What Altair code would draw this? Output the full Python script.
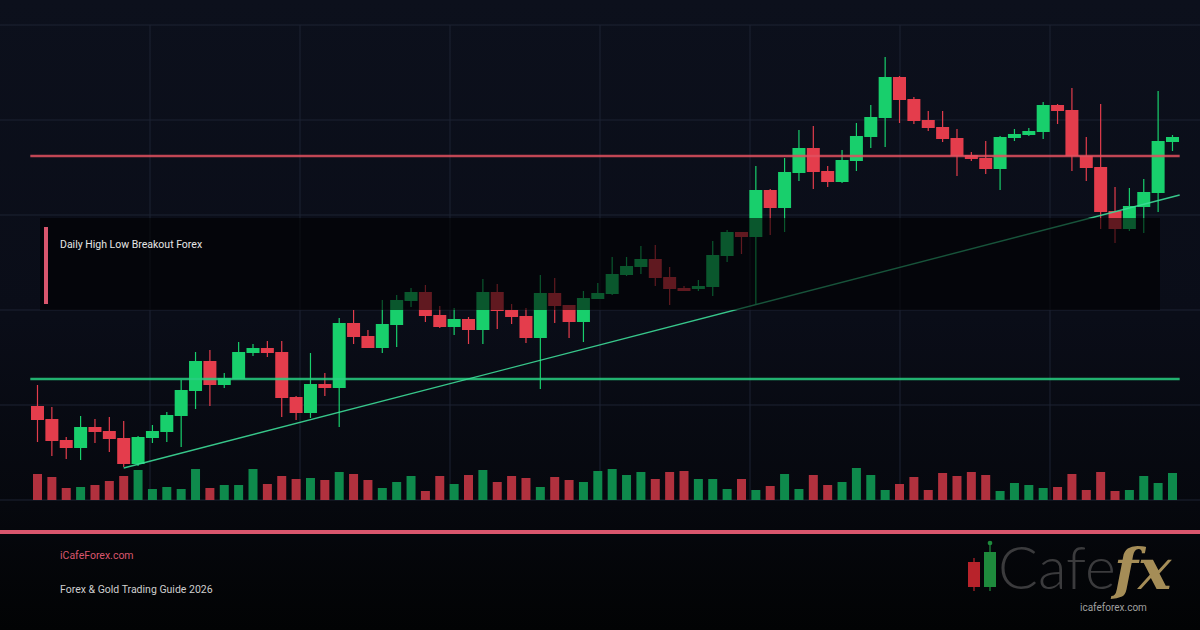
import altair as alt
import pandas as pd

# ---------------- data ----------------
OPEN = [2009.4, 2008.1, 2006.0, 2005.2, 2007.3, 2006.9, 2006.2, 2003.6, 2006.2, 2006.8,
        2008.4, 2010.9, 2013.9, 2011.5, 2012.1, 2014.7, 2015.2, 2014.8, 2010.3, 2008.7,
        2011.6, 2011.2, 2017.7, 2016.4, 2015.2, 2017.5, 2019.9, 2020.8, 2018.5, 2017.3,
        2018.1, 2017.0, 2020.8, 2019.0, 2018.4, 2016.2, 2020.7, 2019.5, 2017.8, 2020.1,
        2020.6, 2022.5, 2023.3, 2024.1, 2022.3, 2021.2, 2021.1, 2021.3, 2024.4, 2026.8,
        2026.3, 2031.0, 2029.2, 2032.7, 2035.2, 2032.9, 2031.8, 2033.9, 2036.3, 2038.2,
        2042.3, 2040.1, 2038.0, 2037.3, 2036.2, 2034.5, 2034.2, 2033.1, 2036.2, 2036.5,
        2036.8, 2039.5, 2039.0, 2034.4, 2033.3, 2028.9, 2027.1, 2029.3, 2030.7, 2035.8]
HIGH = [2011.5, 2009.3, 2006.3, 2008.4, 2008.1, 2008.3, 2007.9, 2006.4, 2007.5, 2008.8,
        2012.0, 2014.8, 2015.0, 2012.7, 2015.8, 2015.6, 2015.9, 2015.9, 2010.4, 2014.7,
        2012.7, 2018.2, 2019.0, 2017.0, 2020.0, 2020.5, 2021.2, 2021.5, 2019.4, 2019.2,
        2018.3, 2022.1, 2021.6, 2019.6, 2019.2, 2022.5, 2022.2, 2019.5, 2020.9, 2021.7,
        2024.3, 2024.3, 2025.4, 2025.5, 2023.3, 2021.4, 2022.0, 2025.9, 2027.0, 2026.8,
        2033.4, 2031.1, 2034.2, 2037.0, 2037.4, 2033.4, 2035.0, 2037.7, 2039.5, 2044.3,
        2042.4, 2040.3, 2038.9, 2038.9, 2037.1, 2034.8, 2035.9, 2036.4, 2037.1, 2037.2,
        2039.8, 2039.6, 2041.2, 2036.3, 2039.6, 2031.3, 2031.2, 2032.1, 2040.9, 2036.5]
LOW = [2005.8, 2004.4, 2004.1, 2004.0, 2005.7, 2004.8, 2003.3, 2003.4, 2005.7, 2005.8,
       2005.3, 2009.1, 2009.4, 2011.2, 2012.1, 2014.4, 2014.3, 2008.3, 2008.0, 2008.2,
       2010.4, 2007.3, 2015.6, 2015.2, 2014.7, 2015.3, 2019.3, 2017.8, 2017.2, 2016.5,
       2015.6, 2015.6, 2017.1, 2017.6, 2015.7, 2011.1, 2017.7, 2016.2, 2015.8, 2020.1,
       2020.5, 2022.4, 2022.6, 2021.4, 2019.5, 2020.9, 2020.9, 2020.4, 2023.8, 2024.6,
       2019.6, 2026.5, 2026.8, 2031.9, 2031.1, 2031.3, 2031.7, 2032.9, 2035.2, 2035.3,
       2037.7, 2037.6, 2036.9, 2035.8, 2032.4, 2033.9, 2032.6, 2031.0, 2035.9, 2036.4,
       2036.1, 2037.6, 2032.9, 2031.9, 2027.1, 2025.7, 2026.9, 2026.7, 2028.8, 2034.9]
CLOSE = [2008.0, 2005.9, 2005.2, 2007.3, 2006.8, 2006.1, 2003.6, 2006.3, 2006.9, 2008.5,
         2011.0, 2013.9, 2011.5, 2012.2, 2014.8, 2015.2, 2014.7, 2010.2, 2008.7, 2011.6,
         2011.2, 2017.7, 2016.3, 2015.2, 2017.6, 2020.0, 2020.8, 2018.4, 2017.3, 2018.1,
         2017.0, 2020.8, 2018.9, 2018.3, 2016.2, 2020.7, 2019.4, 2017.8, 2020.2, 2020.7,
         2022.6, 2023.4, 2024.1, 2022.2, 2021.1, 2020.9, 2021.4, 2024.5, 2026.8, 2026.3,
         2031.0, 2029.2, 2032.8, 2035.2, 2032.8, 2031.8, 2034.0, 2036.4, 2038.3, 2042.3,
         2040.0, 2037.9, 2037.2, 2036.1, 2034.4, 2034.1, 2033.1, 2036.3, 2036.6, 2036.9,
         2039.5, 2038.9, 2034.4, 2033.2, 2028.8, 2027.1, 2029.4, 2030.8, 2035.9, 2036.3]
VOLUME = [2600, 2300, 1200, 1300, 1500, 1900, 2400, 3000, 1100, 1300, 1100, 3100, 1200,
          1500, 1500, 3100, 1600, 2400, 2100, 2200, 2000, 2800, 2600, 2000, 1200, 1800, 2400,
          900, 2400, 1600, 2500, 3000, 1800, 2400, 2200, 1300, 2300, 2000, 1800, 2900, 3100,
          2500, 2800, 2100, 2800, 2900, 2100, 2100, 1100, 2100, 1000, 1400, 2600, 1100,
          2500, 1500, 1800, 3200, 2500, 1000, 1600, 2300, 1000, 2700, 2400, 2800, 2500, 900,
          1700, 1500, 1200, 1300, 2600, 1000, 2800, 900, 1000, 2400, 1700, 2700]

RESISTANCE = 2034.4
SUPPORT = 2012.1
LEVEL_SPAN = [-0.5, 79.5]
TREND_IDX = [6.0, 79.5]
TREND_PRICE = [2003.2, 2030.5]

TITLE = "Daily High Low Breakout Forex"
SITE = "iCafeForex.com"
SUBTITLE = "Forex & Gold Trading Guide 2026"
LOGO_WORD = "Cafe"
LOGO_FX = "fx"
LOGO_URL = "icafeforex.com"

# ---------------- styling ----------------
W, H = 1200, 630
GREEN = "#18cf6c"
RED = "#e43d4c"
VOL_GREEN = "#0f9150"
VOL_RED = "#ba3441"
GRID = "#1d2232"
PINK = "#d9566d"
FONT = "Roboto"

df = pd.DataFrame({"i": list(range(len(OPEN))), "open": OPEN, "high": HIGH,
                   "low": LOW, "close": CLOSE, "vol": VOLUME})
df["dir"] = ["up" if c >= o else "down" for o, c in zip(OPEN, CLOSE)]

XS = alt.Scale(domain=[-2.61, 80.915], nice=False, zero=False, padding=0)
YS = alt.Scale(domain=[1987, 2050], nice=False, zero=False, padding=0)
VS = alt.Scale(domain=[-13000, 50000], nice=False, zero=False, padding=0)
CS = alt.Scale(domain=["up", "down"], range=[GREEN, RED])
VCS = alt.Scale(domain=["up", "down"], range=[VOL_GREEN, VOL_RED])

one = pd.DataFrame({"k": [0]})

def px_rect(x, x2, y, y2, color, opacity=1.0):
    return alt.Chart(one).mark_rect(color=color, opacity=opacity).encode(
        x=alt.value(x), x2=alt.value(x2), y=alt.value(y), y2=alt.value(y2))

def px_rule(x, x2, y, y2, color, width=1.0, opacity=1.0):
    return alt.Chart(one).mark_rule(color=color, strokeWidth=width, opacity=opacity).encode(
        x=alt.value(x), x2=alt.value(x2), y=alt.value(y), y2=alt.value(y2))

def px_text(txt, x, y, size, color, **kw):
    return alt.Chart(one).mark_text(text=txt, fontSize=size, color=color, align="left",
                                    baseline="middle", font=kw.pop("font", FONT), **kw).encode(
        x=alt.value(x), y=alt.value(y))

layers = []
# background gradient
layers.append(alt.Chart(one).mark_rect(color=alt.Gradient(
    gradient="linear", x1=0, y1=0, x2=0, y2=1,
    stops=[alt.GradientStop(offset=0, color="#0c101c"),
           alt.GradientStop(offset=0.5, color="#0a0d18"),
           alt.GradientStop(offset=0.8, color="#06080e"),
           alt.GradientStop(offset=1, color="#020304")])).encode(
    x=alt.value(0), x2=alt.value(W), y=alt.value(0), y2=alt.value(H)))

# grid
for gy in [25, 120, 215, 310, 405, 500]:
    layers.append(px_rule(0, W, gy, gy, GRID))
for gx in [150, 300, 450, 600, 750, 900, 1050]:
    layers.append(px_rule(gx, gx, 25, 500, GRID))

# volume
layers.append(alt.Chart(df).mark_bar(size=9, opacity=0.95).encode(
    x=alt.X("i:Q", scale=XS, axis=None),
    y=alt.Y("vol:Q", scale=VS, axis=None),
    y2=alt.datum(0),
    color=alt.Color("dir:N", scale=VCS, legend=None)))

# candles
layers.append(alt.Chart(df).mark_rule(strokeWidth=1.2).encode(
    x=alt.X("i:Q", scale=XS, axis=None),
    y=alt.Y("low:Q", scale=YS, axis=None), y2="high:Q",
    color=alt.Color("dir:N", scale=CS, legend=None)))
layers.append(alt.Chart(df).mark_bar(size=13).encode(
    x=alt.X("i:Q", scale=XS, axis=None),
    y=alt.Y("open:Q", scale=YS, axis=None), y2="close:Q",
    color=alt.Color("dir:N", scale=CS, legend=None)))

# levels
lev = pd.DataFrame({"x0": [LEVEL_SPAN[0]] * 2, "x1": [LEVEL_SPAN[1]] * 2,
                    "level": [RESISTANCE, SUPPORT], "kind": ["res", "sup"]})
layers.append(alt.Chart(lev).mark_rule(strokeWidth=2.4, opacity=0.85).encode(
    x=alt.X("x0:Q", scale=XS, axis=None), x2="x1:Q",
    y=alt.Y("level:Q", scale=YS, axis=None),
    color=alt.Color("kind:N", scale=alt.Scale(domain=["res", "sup"], range=["#e2505f", "#27cf80"]),
                    legend=None)))
trend = pd.DataFrame({"i": TREND_IDX, "p": TREND_PRICE})
layers.append(alt.Chart(trend).mark_line(color="#3ddb98", strokeWidth=1.4, opacity=0.9).encode(
    x=alt.X("i:Q", scale=XS, axis=None), y=alt.Y("p:Q", scale=YS, axis=None)))

# overlay box with title
layers.append(px_rect(40, 1160, 218, 310, "#000000", 0.58))
layers.append(px_rect(44, 48, 227, 304, PINK))
layers.append(px_text(TITLE, 60, 245, 10.5, "#e6e6e6"))

# footer
layers.append(px_rect(0, W, 530, 534, PINK))
layers.append(px_text(SITE, 60, 556, 10.5, PINK))
layers.append(px_text(SUBTITLE, 60, 590, 10.5, "#cfcfcf"))

# logo
layers.append(px_rule(974, 974, 558, 591, "#b8232b", 1.2))
layers.append(px_rect(968, 980, 562, 587, "#b8232b"))
layers.append(px_rule(990, 990, 544, 591, "#1e8a3c", 1.2))
layers.append(px_rect(984, 996, 552, 587, "#1e8a3c"))
layers.append(alt.Chart(one).mark_circle(color="#1e8a3c", size=22, opacity=1).encode(
    x=alt.value(990), y=alt.value(543)))
layers.append(px_text(LOGO_WORD, 998, 571, 59, "#3b3b3d", font="Lato", fontWeight=300))
layers.append(px_text(LOGO_FX, 1114, 572, 56, "#a58d57", font="DejaVu Serif",
                      fontStyle="italic", fontWeight="bold"))
layers.append(px_text(LOGO_URL, 1080, 608, 10, "#a0a0a0"))

chart = alt.layer(*layers).resolve_scale(y="independent", color="independent").properties(
    width=W, height=H, padding=0, autosize=alt.AutoSizeParams(type="none"),
    background="#0a0d16",
).configure_view(stroke=None, strokeWidth=0)

chart.save("out.html", embed_options={"renderer": "svg", "actions": False})
